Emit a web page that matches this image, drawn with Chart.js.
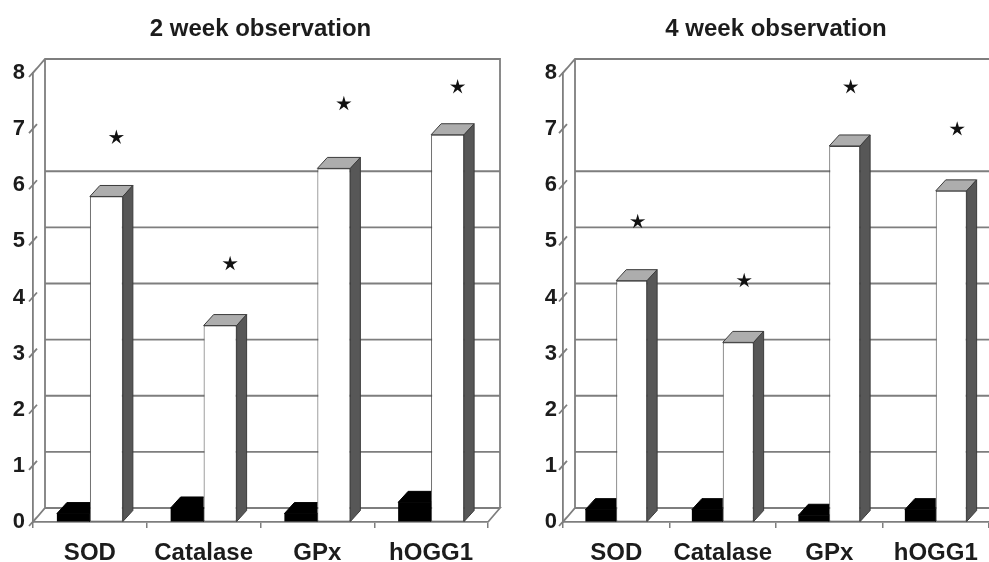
<!DOCTYPE html>
<html>
<head>
<meta charset="utf-8">
<script src="https://cdn.jsdelivr.net/npm/chart.js@4/dist/chart.umd.min.js"></script>
<style>
  html, body { margin: 0; padding: 0; background: #fff; overflow: hidden; }
  canvas { position: absolute; top: 0; }
  #chart2 { left: 0; }
  #chart4 { left: 505px; }
</style>
</head>
<body>
<canvas id="chart2" width="505" height="562"></canvas>
<canvas id="chart4" width="505" height="562"></canvas>
<script>
// enzyme activity, fold values
const enzymes = ['SOD', 'Catalase', 'GPx', 'hOGG1'];

const control2 = [0.15, 0.25, 0.15, 0.35];
const exposed2 = [5.8, 3.5, 6.3, 6.9];
const stars2 = [6.85, 4.6, 7.45, 7.75];

const control4 = [0.22, 0.22, 0.12, 0.22];
const exposed4 = [4.3, 3.2, 6.7, 5.9];
const stars4 = [5.35, 4.3, 7.75, 7.0];

const gray = '#7e7e7e';
const textColor = '#1c1c1c';
const wall = { dx: 12, dy: 14 };   // depth of the back wall
const depth = { dx: 10, dy: 11 };  // depth of each column

function drawStar(ctx, cx, cy, R, r) {
  ctx.beginPath();
  for (let i = 0; i < 10; i++) {
    const ang = -Math.PI / 2 + i * Math.PI / 5;
    const rad = i % 2 ? r : R;
    ctx.lineTo(cx + rad * Math.cos(ang), cy + rad * Math.sin(ang));
  }
  ctx.closePath();
  ctx.fill();
}

// walls, floor and the 3d faces of the columns
const box3d = {
  id: 'box3d',
  beforeDatasetsDraw(chart, args, opts) {
    const { ctx, chartArea: a, scales: { y } } = chart;
    const top = y.getPixelForValue(y.max), bottom = y.getPixelForValue(0);
    ctx.save();
    ctx.strokeStyle = gray;
    ctx.lineWidth = 1.8;
    ctx.beginPath();
    y.ticks.forEach(t => {
      const py = y.getPixelForValue(t.value);
      // slanted tick on the front edge
      ctx.moveTo(a.left - 4, py + 4);
      ctx.lineTo(a.left + 4, py - 5);
      if (t.value === 0 || opts.skipGrid.includes(t.value)) return;
      ctx.moveTo(a.left + wall.dx, py - wall.dy);
      ctx.lineTo(a.right + wall.dx, py - wall.dy);
    });
    // back wall outline
    ctx.moveTo(a.left, top);
    ctx.lineTo(a.left + wall.dx, top - wall.dy);
    ctx.lineTo(a.right + wall.dx, top - wall.dy);
    ctx.lineTo(a.right + wall.dx, bottom - wall.dy);
    ctx.moveTo(a.left + wall.dx, top - wall.dy);
    ctx.lineTo(a.left + wall.dx, bottom - wall.dy);
    // floor
    ctx.moveTo(a.left, bottom);
    ctx.lineTo(a.left + wall.dx, bottom - wall.dy);
    ctx.lineTo(a.right + wall.dx, bottom - wall.dy);
    ctx.lineTo(a.right, bottom);
    ctx.stroke();
    ctx.restore();
  },
  afterDatasetDraw(chart, args) {
    const ctx = chart.ctx;
    const ds = chart.data.datasets[args.index];
    args.meta.data.forEach(el => {
      const { x, y: t, base, width: w } = el.getProps(['x', 'y', 'base', 'width'], true);
      const l = x - w / 2, r = x + w / 2;
      ctx.save();
      ctx.lineWidth = 1;
      ctx.strokeStyle = ds.edgeColor;
      if (ds.clipFaces) {
        ctx.beginPath();
        ctx.rect(l - 1, 0, w + 1, chart.height);
        ctx.clip();
      }
      ctx.beginPath();
      ctx.moveTo(l, t);
      ctx.lineTo(l + depth.dx, t - depth.dy);
      ctx.lineTo(r + depth.dx, t - depth.dy);
      ctx.lineTo(r, t);
      ctx.closePath();
      ctx.fillStyle = ds.topColor;
      ctx.fill();
      ctx.stroke();
      ctx.beginPath();
      ctx.moveTo(r, t);
      ctx.lineTo(r + depth.dx, t - depth.dy);
      ctx.lineTo(r + depth.dx, base - depth.dy);
      ctx.lineTo(r, base);
      ctx.closePath();
      ctx.fillStyle = ds.sideColor;
      ctx.fill();
      ctx.stroke();
      ctx.restore();
    });
  },
  afterDatasetsDraw(chart, args, opts) {
    const ctx = chart.ctx, y = chart.scales.y;
    const bars = chart.getDatasetMeta(1).data;
    ctx.save();
    ctx.fillStyle = '#111';
    bars.forEach((el, i) => {
      drawStar(ctx, el.x + opts.starShift, y.getPixelForValue(opts.stars[i]), 8, 2.8);
    });
    ctx.restore();
  }
};

function makePanel(id, title, control, exposed, stars, o) {
  const font = { family: 'Liberation Sans', weight: 'bold' };
  return new Chart(document.getElementById(id), {
    type: 'bar',
    data: {
      labels: enzymes,
      datasets: [
        { label: 'control', data: control, backgroundColor: '#000', borderWidth: 0,
          edgeColor: '#000', topColor: '#000', sideColor: '#000', clipFaces: true },
        { label: 'exposed', data: exposed, backgroundColor: '#fff', borderColor: '#4a4a4a',
          borderWidth: 1, borderSkipped: false,
          edgeColor: '#3c3c3c', topColor: '#adadad', sideColor: '#575757' }
      ]
    },
    options: {
      responsive: false,
      animation: false,
      categoryPercentage: 0.58,
      barPercentage: 1,
      layout: { padding: { left: 0, right: o.padRight, top: 0, bottom: 0 } },
      plugins: {
        legend: { display: false },
        tooltip: { enabled: false },
        title: {
          display: true, text: title, fullSize: false, color: textColor,
          font: { ...font, size: 24 }, padding: { top: 15, bottom: 29.2 }
        },
        box3d: { stars: stars, starShift: o.starShift, skipGrid: [7] }
      },
      scales: {
        x: {
          grid: { display: true, drawOnChartArea: false, drawTicks: true, tickLength: 6, color: gray, lineWidth: 1.5 },
          border: { display: true, color: gray, width: 1.8 },
          ticks: { color: textColor, font: { ...font, size: 24 }, padding: 11, maxRotation: 0 },
          afterFit: s => { s.height = 40; }
        },
        y: {
          min: 0, max: 8,
          grid: { display: true, drawOnChartArea: false, drawTicks: false },
          border: { display: true, color: gray, width: 1.8 },
          ticks: { stepSize: 1, color: textColor, font: { ...font, size: 22 }, padding: o.tickPad },
          afterFit: s => { s.width = o.axisWidth; }
        }
      }
    },
    plugins: [box3d]
  });
}

makePanel('chart2', '2 week observation', control2, exposed2, stars2,
  { padRight: 17, axisWidth: 33, tickPad: 8, starShift: 10 });
makePanel('chart4', '4 week observation', control4, exposed4, stars4,
  { padRight: 21, axisWidth: 58, tickPad: 6, starShift: 6 });
</script>
</body>
</html>
